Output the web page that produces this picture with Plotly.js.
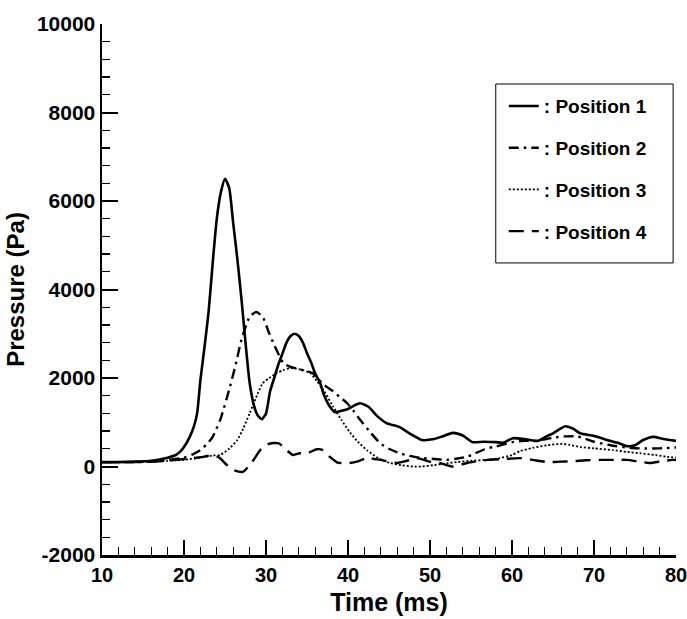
<!DOCTYPE html>
<html>
<head>
<meta charset="utf-8">
<script src="https://cdn.plot.ly/plotly-3.0.1.min.js"></script>
<style>html,body{margin:0;padding:0;background:#fff;}</style>
</head>
<body>
<div id="chart" style="width:687px;height:619px;"></div>
<script>
// Position 1 (solid)
const t1 = [10,12,14,16,17,18,19,19.5,20,20.7,21.2,21.6,22,22.5,23,23.5,24,24.5,25,25.5,26,26.5,27,27.5,28,28.5,29,29.5,30,30.5,31,31.5,32,32.5,33,33.5,34,34.5,35,35.5,36,36.6,37,37.8,38.4,39,40,41,41.5,42.5,43.5,44.7,46.3,47.5,49,50.5,51.5,52.8,54,55.2,56.5,58,59,60.1,61.5,63.2,64.2,65,66.5,67.5,68.3,70,71.6,73,74,75,76,77.2,78.5,80];
const p1 = [100,100,110,130,160,200,260,330,440,670,900,1200,1950,2700,3500,4600,5600,6200,6500,6300,5500,4700,3800,2800,1900,1400,1150,1070,1200,1700,2000,2300,2550,2800,2950,3000,2950,2800,2560,2350,2100,1890,1650,1350,1230,1250,1300,1400,1430,1350,1150,980,890,750,600,620,680,760,700,550,560,550,540,640,620,580,680,750,910,850,750,690,600,530,460,480,600,670,620,580];

// Position 2 (dash-dot)
const t2 = [10,12,14,16,18,20,21,22,23,23.5,24.5,25.6,26.3,27,28,28.8,29.6,30.3,30.9,31.5,32.1,33,34,35,35.7,36.5,37.4,38.2,39,39.9,40.7,41.5,42.7,43.9,45,46.3,47.5,49.1,50.5,52,53,54.5,55.5,57,58,60,61.5,63,65,66.5,68,70,72,74,75.6,78,80];
const p2 = [100,100,100,110,150,200,270,370,550,670,1100,1800,2300,2860,3380,3490,3380,3050,2790,2550,2340,2250,2200,2150,2110,1950,1800,1700,1570,1430,1250,1050,780,530,400,300,240,190,170,150,170,220,300,410,450,550,580,580,650,680,680,560,480,430,410,410,430];

// Position 3 (dotted)
const t3 = [10,12,14,16,18,20,22,23.5,24.4,25.5,26.5,27.2,28,29,29.6,30.4,31.3,32.1,32.9,33.5,34.5,35.4,36.2,37,38.2,39.2,40.2,41.2,42.3,43.6,45.1,46.5,47.9,49,50.4,52,53.3,55,57,58.5,60,61,62.5,64.3,65.9,67,68.3,70,72.3,74,75.6,77.5,78.9,80];
const p3 = [100,100,100,110,130,150,200,250,260,400,600,850,1200,1650,1880,2000,2110,2180,2220,2220,2180,2110,1930,1730,1350,1050,780,560,370,200,80,30,0,0,30,70,100,130,150,190,260,350,420,480,510,490,440,410,370,330,300,260,220,200];

// Position 4 (long dash)
const t4 = [10,12,14,16,18,20,22,23.5,24.3,25.2,26,27.2,28.3,29.3,30.2,30.9,31.6,32.1,33.3,34.1,35,36.2,36.8,37.7,38.7,40.2,41.3,42.3,43.9,46,47.2,48.4,50,51.2,52.8,54.5,57,59,61,62.5,64.3,66,67.4,69,70.7,72.5,74,75.5,76.8,78.3,79.6,80];
const p4 = [100,100,100,110,130,170,210,250,200,40,-80,-120,100,370,500,530,520,440,260,300,300,390,380,230,90,80,120,190,150,80,130,190,110,80,0,80,150,170,190,150,100,110,120,140,150,150,150,110,80,120,150,150];

const names = [': Position 1', ': Position 2', ': Position 3', ': Position 4'];

// Tick labels
const xTickVals = [10, 20, 30, 40, 50, 60, 70, 80];
const xTickText = ['10', '20', '30', '40', '50', '60', '70', '80'];
const yTickVals = [-2000, 0, 2000, 4000, 6000, 8000, 10000];
const yTickText = ['-2000', '0', '2000', '4000', '6000', '8000', '10000'];

const mk = (x, y, name, dash, w, g) => ({
  x: x, y: y, name: name, type: 'scatter', mode: 'lines',
  legendgroup: g,
  line: {color: 'black', width: w, dash: dash, shape: 'spline', smoothing: 0.6}
});

const data = [
  mk(t1, p1, names[0], 'solid', 2.6, 'a'),
  mk(t2, p2, names[1], '10px,5px,2.5px,5px', 2.4, 'b'),
  mk(t3, p3, names[2], '2px,2px', 1.8, 'c'),
  mk(t4, p4, names[3], '15px,8px', 2.4, 'd')
];

const boldFont = {family: 'Liberation Sans, Arial, sans-serif', color: 'black', weight: 'bold'};

const layout = {
  width: 687, height: 619,
  margin: {l: 102, r: 11, t: 24, b: 64, pad: 0},
  paper_bgcolor: 'white', plot_bgcolor: 'white',
  font: {family: 'Liberation Sans, Arial, sans-serif', color: 'black'},
  showlegend: true,
  legend: {
    x: 0.70, y: 0.881, xanchor: 'left', yanchor: 'top',
    bgcolor: 'rgba(0,0,0,0)', borderwidth: 0,
    font: Object.assign({}, boldFont, {size: 19}),
    tracegroupgap: 14, traceorder: 'grouped'
  },
  shapes: [{
    type: 'rect', xref: 'paper', yref: 'paper',
    x0: 0.686, x1: 0.995, y0: 0.550, y1: 0.887,
    line: {color: 'black', width: 1}, fillcolor: 'rgba(0,0,0,0)'
  }],
  xaxis: {
    range: [10, 80], tickmode: 'array', tickvals: xTickVals, ticktext: xTickText,
    ticks: 'inside', ticklen: 15, tickwidth: 2, tickcolor: 'black',
    showline: true, linewidth: 2.5, linecolor: 'black',
    showgrid: false, zeroline: false, ticklabeloverflow: 'allow',
    tickfont: Object.assign({}, boldFont, {size: 20}),
    minor: {tickmode: 'linear', tick0: 10, dtick: 2, ticks: 'inside', ticklen: 8, tickwidth: 1.3, tickcolor: 'black', showgrid: false},
    title: {text: 'Time (ms)', font: Object.assign({}, boldFont, {size: 25}), standoff: 9}
  },
  yaxis: {
    range: [-2000, 10000], tickmode: 'array', tickvals: yTickVals, ticktext: yTickText,
    ticks: 'inside', ticklen: 16, tickwidth: 2, tickcolor: 'black',
    showline: true, linewidth: 2.5, linecolor: 'black',
    showgrid: false, zeroline: false, ticklabeloverflow: 'allow',
    tickfont: Object.assign({}, boldFont, {size: 21}),
    minor: {tickmode: 'linear', tick0: 0, dtick: 400, ticks: 'inside', ticklen: 8, tickwidth: 1.3, tickcolor: 'black', showgrid: false},
    title: {text: 'Pressure (Pa)', font: Object.assign({}, boldFont, {size: 24}), standoff: 6}
  }
};

Plotly.newPlot('chart', data, layout, {displayModeBar: false, staticPlot: true});
</script>
</body>
</html>
